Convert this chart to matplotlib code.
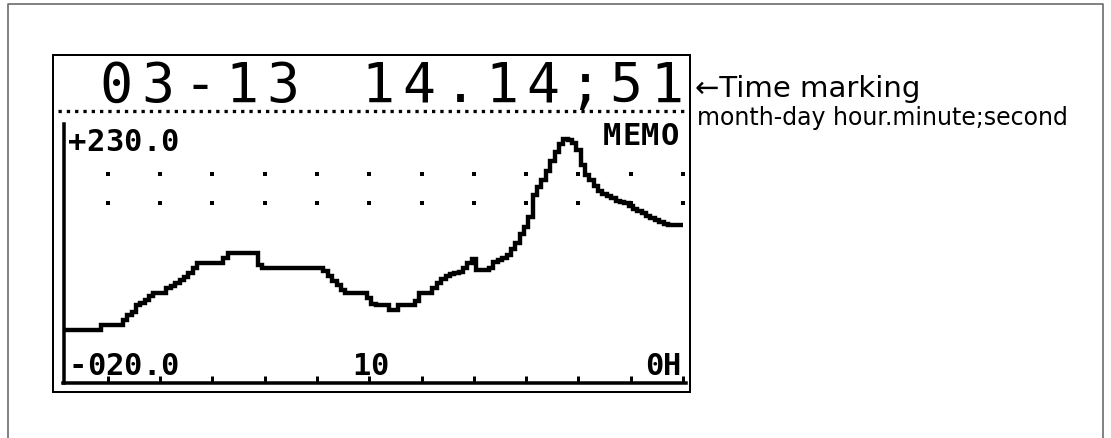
import matplotlib
matplotlib.use("Agg")
import matplotlib.pyplot as plt
from matplotlib.lines import Line2D
from matplotlib.patches import Rectangle

plt.rcParams['lines.scale_dashes'] = False

# logger trace, one reading per display column
trace = [33, 33, 33, 33, 33, 33, 33, 33, 33,
         38, 38, 38, 38, 38,
         43, 48, 51, 58, 60, 63, 67, 70, 70, 70,
         75, 77, 80, 83, 86, 90, 95,
         100, 100, 100, 100, 100, 100,
         105,
         110, 110, 110, 110, 110, 110, 110,
         98,
         95, 95, 95, 95, 95, 95, 95, 95, 95, 95, 95, 95, 95, 95,
         92, 87, 82, 78, 73,
         70, 70, 70, 70, 70,
         65, 59,
         58, 58, 58,
         53, 53,
         58, 58, 58, 58,
         62,
         70, 70, 70,
         75, 80, 84, 87, 89, 90, 91, 95, 100, 104,
         93, 93, 93,
         95, 101, 103, 105, 108, 114, 120, 129, 136, 146,
         168, 176, 183, 192, 202, 211, 219, 224, 223, 220,
         213, 198, 188, 183, 177, 172, 169, 167, 165, 162,
         161, 160, 157, 154, 152, 150, 147, 145, 143, 141,
         139, 138, 138, 138, 138]

grid_cols = [10, 22, 34, 46, 58, 70, 82, 94, 106, 118, 130, 142]
grid_rows = [189, 160]

stamp_date = "03-13"
stamp_time = "14.14;51"
y_top_label = "+230.0"
y_bottom_label = "-020.0"
mode_label = "MEMO"
x_mid_label = "10"
x_end_label = "0H"
note_title = "\u2190Time marking"
note_sub = "month-day hour.minute;second"

W, H = 1111, 438
PT = 0.72  # points per pixel at 100 dpi

fig = plt.figure(figsize=(W / 100, H / 100), dpi=100)


def fx(x):
    return x / W


def fy(y):
    return 1 - y / H


def lcd(s, x0, base, pitch, size, weight='bold'):
    # fixed-pitch display lettering, one cell per character
    for k, ch in enumerate(s):
        fig.text(fx(x0 + k * pitch), fy(base), ch, ha='center', va='baseline',
                 family='DejaVu Sans Mono', fontsize=size, fontweight=weight)


# page border (open at the bottom)
fig.add_artist(Line2D([fx(8), fx(8), fx(1103), fx(1103)],
                      [fy(438), fy(3.5), fy(3.5), fy(438)],
                      transform=fig.transFigure, color='#666666', lw=1.6 * PT))

# display frame
fig.add_artist(Rectangle((fx(52.5), fy(391.5)), (689.5 - 52.5) / W, (391.5 - 55) / H,
                         transform=fig.transFigure, fill=False, ec='black', lw=2 * PT))

# dotted separator under the time stamp
fig.add_artist(Line2D([fx(58), fx(686)], [fy(110.5), fy(110.5)],
                      transform=fig.transFigure, color='black', lw=3.3 * PT,
                      linestyle=(0, (3.3 * PT, 5.0 * PT)), dash_capstyle='butt'))

# plot area
ax = fig.add_axes([fx(63.5), fy(383), (686 - 63.5) / W, (383 - 124) / H])
ax.set_facecolor('none')
ax.set_xlim(-0.115, 142.66)
ax.set_ylim(-20, 239)
ax.spines['top'].set_visible(False)
ax.spines['right'].set_visible(False)
ax.spines['left'].set_linewidth(3.5 * PT)
ax.spines['bottom'].set_linewidth(3.5 * PT)

ax.plot(range(len(trace)), trace, drawstyle='steps-mid', color='black',
        lw=4.4 * PT, solid_joinstyle='miter', solid_capstyle='butt')

for r in grid_rows:
    ax.scatter(grid_cols, [r] * len(grid_cols), marker='s', s=(4 * PT) ** 2,
               color='black', linewidths=0, clip_on=False)

ax.set_xticks(grid_cols)
ax.set_xticklabels([])
ax.set_yticks([])
ax.tick_params(axis='x', direction='in', length=7 * PT, width=3 * PT, color='black')

# display lettering
lcd(stamp_date, 116, 102, 41.8, 39.5, 'normal')
lcd(stamp_time, 378, 102, 41.3, 39.5, 'normal')
lcd(y_top_label, 77.5, 151, 18.4, 22)
lcd(y_bottom_label, 77.5, 375, 18.4, 22)
lcd(mode_label, 612, 145, 19.2, 22)
lcd(x_mid_label, 361, 375, 18, 22)
lcd(x_end_label, 654, 375, 18, 22)

# side notes
fig.text(fx(695), fy(97), note_title, family='DejaVu Sans', fontsize=21, va='baseline')
fig.text(fx(697), fy(125), note_sub, family='DejaVu Sans', fontsize=17, va='baseline')

fig.savefig("out.png", dpi=100)
